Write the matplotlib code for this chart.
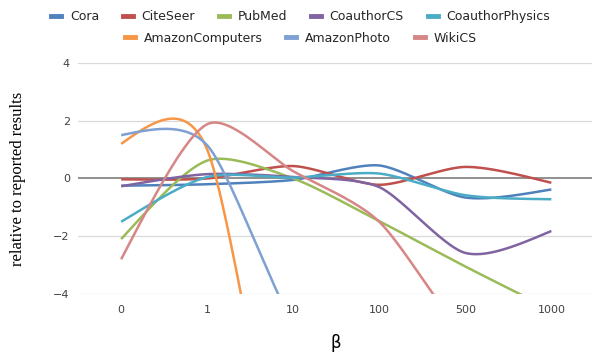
import numpy as np
import matplotlib
matplotlib.use("Agg")
import matplotlib.pyplot as plt
from matplotlib.lines import Line2D

betas = ["0", "1", "10", "100", "500", "1000"]

cora = [-0.25, -0.2, -0.05, 0.45, -0.66, -0.38]
citeseer = [-0.03, 0.0, 0.43, -0.22, 0.40, -0.15]
pubmed = [-2.1, 0.62, 0.0, -1.48, -3.05, -4.55]
coauthor_cs = [-0.27, 0.15, 0.05, -0.3, -2.58, -1.82]
coauthor_phys = [-1.5, 0.05, 0.03, 0.17, -0.58, -0.72]
amazon_comp = [1.2, 1.0, -13.0, -20.0, -25.0, -30.0]
amazon_photo = [1.5, 1.15, -5.0, -8.0, -10.0, -12.0]
wikics = [-2.8, 1.88, 0.25, -1.5, -5.5, -8.0]

names = ["Cora", "CiteSeer", "PubMed", "CoauthorCS", "CoauthorPhysics",
         "AmazonComputers", "AmazonPhoto", "WikiCS"]
series = [cora, citeseer, pubmed, coauthor_cs, coauthor_phys,
          amazon_comp, amazon_photo, wikics]
colors = ["#4F81BD", "#C0504D", "#9BBB59", "#8064A2", "#4BACC6",
          "#F79646", "#7EA0D2", "#D68685"]


def smooth(ys, sx=86.0, sy=28.8, n=60, f=1 / 8):
    # bezier smoothing similar to spreadsheet "smoothed line"
    P = np.column_stack([np.arange(len(ys)) * sx, np.asarray(ys) * sy])
    out = []
    for i in range(len(P) - 1):
        p1, p2 = P[i], P[i + 1]
        c1 = c2 = None
        if i > 0:
            c1 = p1 + (p2 - P[i - 1]) * f
        if i + 2 < len(P):
            c2 = p2 - (P[i + 2] - p1) * f
        if c1 is None:
            c1 = (p1 + c2) / 2
        if c2 is None:
            c2 = (p2 + c1) / 2
        t = np.linspace(0, 1, n)[:, None]
        seg = ((1 - t) ** 3 * p1 + 3 * (1 - t) ** 2 * t * c1
               + 3 * (1 - t) * t ** 2 * c2 + t ** 3 * p2)
        out.append(seg if i == 0 else seg[1:])
    out = np.vstack(out)
    return out[:, 0] / sx, out[:, 1] / sy


fig = plt.figure(figsize=(5.92, 3.52), dpi=100)
ax = fig.add_axes([0.132, 0.165, 0.872, 0.656])

for y in [-4, -2, 2, 4]:
    ax.axhline(y, color="#D9D9D9", lw=0.9, zorder=0)
ax.axhline(0, color="#878787", lw=1.3, zorder=1)

for name, ys, c in zip(names, series, colors):
    sx, sy = smooth(ys)
    ax.plot(sx, sy, color=c, lw=1.8, solid_capstyle="butt", zorder=2)

ax.set_xlim(-0.5, 5.5)
ax.set_ylim(-4, 4)
ax.set_xticks(range(len(betas)))
ax.set_xticklabels(betas)
ax.set_yticks([-4, -2, 0, 2, 4])
ax.tick_params(length=0, labelsize=8, colors="#404040", pad=8)
ax.tick_params(axis="y", pad=6)
for s in ax.spines.values():
    s.set_visible(False)

ax.set_xlabel("β", fontsize=12, labelpad=14)
ax.set_ylabel("relative to reported results", family="Liberation Serif",
              fontsize=12, labelpad=20)

handles = [Line2D([], [], color=c, lw=3.5) for c in colors]
leg1 = fig.legend(handles[:5], names[:5], loc="center", ncol=5,
                  bbox_to_anchor=(0.508, 0.953), frameon=False, fontsize=9,
                  handlelength=0.8, handletextpad=0.7, columnspacing=1.9)
leg2 = fig.legend(handles[5:], names[5:], loc="center", ncol=3,
                  bbox_to_anchor=(0.508, 0.892), frameon=False, fontsize=9,
                  handlelength=0.8, handletextpad=0.7, columnspacing=1.9)
for t in leg1.get_texts() + leg2.get_texts():
    t.set_color("#262626")

fig.savefig("out.png", dpi=100)
